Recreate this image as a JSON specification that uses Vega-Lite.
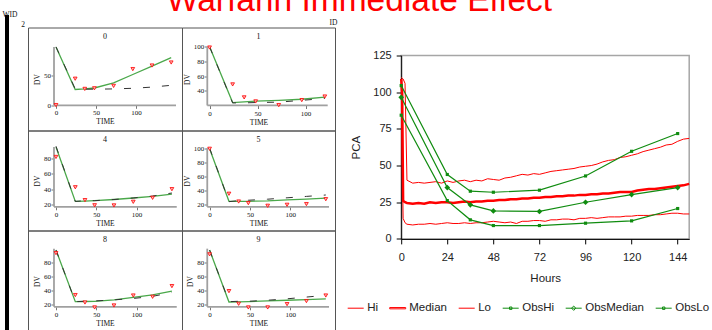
{
"$schema": "https://vega.github.io/schema/vega-lite/v6.json",
"background": "white",
"padding": {"top": -16.5, "left": 0.5, "right": 0, "bottom": 0},
"title": {"text": "Warfarin Immediate Effect", "font": "Liberation Sans", "fontSize": 33.5, "fontWeight": "normal", "color": "#ff0000", "anchor": "middle", "offset": -9.5, "dx": 4},
"config": {
  "view": {"stroke": null},
  "axis": {"grid": false, "domain": false, "tickSize": 3, "tickColor": "#777", "tickWidth": 1, "labelFont": "Liberation Serif", "labelFontSize": 7, "labelColor": "#111", "labelPadding": 0.5, "titleFont": "Liberation Serif", "titleFontSize": 7.5, "titleFontWeight": "normal", "titleColor": "#111", "titlePadding": 2, "labelFlush": false, "labelOverlap": false}
},
"datasets": {
  "panels": [
    {"ID":0,"TIME":0,"PRED":97,"IPRED":97,"OBS":0},
    {"ID":0,"TIME":24,"PRED":27,"IPRED":26,"OBS":44},
    {"ID":0,"TIME":36,"PRED":26.5,"IPRED":27,"OBS":27},
    {"ID":0,"TIME":48,"PRED":26.5,"IPRED":28.5,"OBS":28},
    {"ID":0,"TIME":72,"PRED":27,"IPRED":37,"OBS":32},
    {"ID":0,"TIME":96,"PRED":28,"IPRED":51,"OBS":60},
    {"ID":0,"TIME":120,"PRED":30,"IPRED":65,"OBS":66},
    {"ID":0,"TIME":144,"PRED":33,"IPRED":79,"OBS":71},
    {"ID":1,"TIME":0,"PRED":100,"IPRED":100,"OBS":99},
    {"ID":1,"TIME":24,"PRED":23.5,"IPRED":24,"OBS":48.7},
    {"ID":1,"TIME":36,"PRED":23.5,"IPRED":25,"OBS":31},
    {"ID":1,"TIME":48,"PRED":24,"IPRED":26,"OBS":25.5},
    {"ID":1,"TIME":72,"PRED":24.5,"IPRED":27,"OBS":20.5},
    {"ID":1,"TIME":96,"PRED":27,"IPRED":28.5,"OBS":27.3},
    {"ID":1,"TIME":120,"PRED":29.5,"IPRED":31.5,"OBS":32.2},
    {"ID":4,"TIME":0,"PRED":96,"IPRED":95,"OBS":82},
    {"ID":4,"TIME":24,"PRED":24,"IPRED":24,"OBS":42.5},
    {"ID":4,"TIME":36,"PRED":25,"IPRED":24.5,"OBS":25.7},
    {"ID":4,"TIME":48,"PRED":25,"IPRED":25,"OBS":19},
    {"ID":4,"TIME":72,"PRED":26.5,"IPRED":26.5,"OBS":18.8},
    {"ID":4,"TIME":96,"PRED":28.5,"IPRED":28.5,"OBS":23.5},
    {"ID":4,"TIME":120,"PRED":31,"IPRED":30.5,"OBS":28.7},
    {"ID":4,"TIME":144,"PRED":35,"IPRED":33.5,"OBS":40},
    {"ID":5,"TIME":0,"PRED":100,"IPRED":99,"OBS":99},
    {"ID":5,"TIME":24,"PRED":23.5,"IPRED":24,"OBS":34.8},
    {"ID":5,"TIME":36,"PRED":25,"IPRED":24,"OBS":23.7},
    {"ID":5,"TIME":48,"PRED":25.5,"IPRED":24,"OBS":21.4},
    {"ID":5,"TIME":72,"PRED":27,"IPRED":24.5,"OBS":17.6},
    {"ID":5,"TIME":96,"PRED":29,"IPRED":26,"OBS":19},
    {"ID":5,"TIME":120,"PRED":31,"IPRED":27,"OBS":20},
    {"ID":5,"TIME":144,"PRED":33,"IPRED":28.5,"OBS":27},
    {"ID":8,"TIME":0,"PRED":97,"IPRED":97,"OBS":92.7},
    {"ID":8,"TIME":24,"PRED":24,"IPRED":24,"OBS":33.3},
    {"ID":8,"TIME":36,"PRED":24.5,"IPRED":24.2,"OBS":22.8},
    {"ID":8,"TIME":48,"PRED":25,"IPRED":24.5,"OBS":15.8},
    {"ID":8,"TIME":72,"PRED":26.5,"IPRED":26.5,"OBS":18.6},
    {"ID":8,"TIME":96,"PRED":28.5,"IPRED":30,"OBS":32.7},
    {"ID":8,"TIME":120,"PRED":31.5,"IPRED":33.5,"OBS":30.9},
    {"ID":8,"TIME":144,"PRED":37,"IPRED":39,"OBS":46},
    {"ID":9,"TIME":0,"PRED":97,"IPRED":97,"OBS":91},
    {"ID":9,"TIME":24,"PRED":24,"IPRED":23.5,"OBS":38.9},
    {"ID":9,"TIME":36,"PRED":24.5,"IPRED":23.8,"OBS":21},
    {"ID":9,"TIME":48,"PRED":24.5,"IPRED":24,"OBS":15.8},
    {"ID":9,"TIME":72,"PRED":26,"IPRED":25,"OBS":15.8},
    {"ID":9,"TIME":96,"PRED":28,"IPRED":26,"OBS":20.5},
    {"ID":9,"TIME":120,"PRED":30.5,"IPRED":27,"OBS":24.8},
    {"ID":9,"TIME":144,"PRED":33,"IPRED":28,"OBS":32.7}
  ],
  "frames": [
    {"ID":0,"TIME":-2.5,"TIME2":-2.5,"DV":-0.3,"DV2":97},
    {"ID":0,"TIME":-2.5,"TIME2":150,"DV":-0.3,"DV2":-0.3},
    {"ID":1,"TIME":-2.4,"TIME2":-2.4,"DV":20,"DV2":100},
    {"ID":1,"TIME":-2.4,"TIME2":123,"DV":20,"DV2":20},
    {"ID":4,"TIME":-2.5,"TIME2":-2.5,"DV":17,"DV2":95},
    {"ID":4,"TIME":-2.5,"TIME2":150,"DV":17,"DV2":17},
    {"ID":5,"TIME":-2.9,"TIME2":-2.9,"DV":16,"DV2":100},
    {"ID":5,"TIME":-2.9,"TIME2":148,"DV":16,"DV2":16},
    {"ID":8,"TIME":-2.5,"TIME2":-2.5,"DV":16.7,"DV2":99},
    {"ID":8,"TIME":-2.5,"TIME2":150,"DV":16.7,"DV2":16.7},
    {"ID":9,"TIME":-2.9,"TIME2":-2.9,"DV":16.7,"DV2":99},
    {"ID":9,"TIME":-2.9,"TIME2":148,"DV":16.7,"DV2":16.7}
  ],
  "sim": [
    {"h":0,"Hi":110,"Median":109,"Lo":106},
    {"h":0.5,"Hi":109.5,"Median":100,"Lo":60},
    {"h":1,"Hi":109,"Median":26,"Lo":14},
    {"h":2,"Hi":106,"Median":25,"Lo":11},
    {"h":3,"Hi":40,"Median":24.5,"Lo":10},
    {"h":6,"Hi":38,"Median":24,"Lo":9.5},
    {"h":9,"Hi":38.5,"Median":24.5,"Lo":10},
    {"h":12,"Hi":38,"Median":24,"Lo":10},
    {"h":15,"Hi":38.5,"Median":25,"Lo":10.5},
    {"h":18,"Hi":39,"Median":24.5,"Lo":10},
    {"h":21,"Hi":38,"Median":25,"Lo":10.5},
    {"h":24,"Hi":39.5,"Median":25,"Lo":11},
    {"h":27,"Hi":38.5,"Median":24.5,"Lo":10.5},
    {"h":30,"Hi":39.5,"Median":25,"Lo":10.5},
    {"h":33,"Hi":40,"Median":25.5,"Lo":11},
    {"h":36,"Hi":39,"Median":25,"Lo":10.5},
    {"h":39,"Hi":40,"Median":25.5,"Lo":11},
    {"h":42,"Hi":39.5,"Median":25.5,"Lo":11},
    {"h":45,"Hi":41,"Median":26,"Lo":11.5},
    {"h":48,"Hi":40.5,"Median":26,"Lo":12},
    {"h":51,"Hi":40,"Median":26.5,"Lo":11.5},
    {"h":54,"Hi":41.5,"Median":26.5,"Lo":11},
    {"h":57,"Hi":42,"Median":27,"Lo":11.5},
    {"h":60,"Hi":43,"Median":27,"Lo":10.5},
    {"h":63,"Hi":44,"Median":27.5,"Lo":12},
    {"h":66,"Hi":43.5,"Median":27.5,"Lo":12},
    {"h":69,"Hi":44.5,"Median":28,"Lo":12.5},
    {"h":72,"Hi":44,"Median":28,"Lo":12.5},
    {"h":75,"Hi":45,"Median":28.5,"Lo":12},
    {"h":78,"Hi":46,"Median":28.5,"Lo":13},
    {"h":81,"Hi":46.5,"Median":29,"Lo":13},
    {"h":84,"Hi":47,"Median":29,"Lo":13.5},
    {"h":87,"Hi":47.5,"Median":29.5,"Lo":13.5},
    {"h":90,"Hi":48,"Median":29.5,"Lo":13},
    {"h":93,"Hi":49,"Median":30,"Lo":14},
    {"h":96,"Hi":49.5,"Median":30,"Lo":14},
    {"h":99,"Hi":50,"Median":30.5,"Lo":14.5},
    {"h":102,"Hi":51,"Median":30.5,"Lo":14},
    {"h":105,"Hi":52.5,"Median":31,"Lo":14.5},
    {"h":108,"Hi":53.5,"Median":31,"Lo":15},
    {"h":111,"Hi":54,"Median":31.5,"Lo":15},
    {"h":114,"Hi":55.5,"Median":32,"Lo":15},
    {"h":117,"Hi":56,"Median":32,"Lo":15.5},
    {"h":120,"Hi":57,"Median":32,"Lo":15.5},
    {"h":123,"Hi":58,"Median":33,"Lo":16},
    {"h":126,"Hi":59.5,"Median":33.5,"Lo":16},
    {"h":129,"Hi":60.5,"Median":34,"Lo":16},
    {"h":132,"Hi":61.5,"Median":34,"Lo":16.5},
    {"h":135,"Hi":62.5,"Median":34.5,"Lo":16.5},
    {"h":138,"Hi":64,"Median":35,"Lo":17},
    {"h":141,"Hi":64.5,"Median":35.5,"Lo":17.5},
    {"h":144,"Hi":66.5,"Median":36,"Lo":17.5},
    {"h":147,"Hi":68,"Median":36.5,"Lo":17},
    {"h":150,"Hi":68.5,"Median":37.5,"Lo":17}
  ],
  "obs": [
    {"h":0,"ObsHi":104.5,"ObsMedian":96.5,"ObsLo":84.3},
    {"h":24,"ObsHi":43.9,"ObsMedian":35,"ObsLo":26.1},
    {"h":36,"ObsHi":32.5,"ObsMedian":23.2,"ObsLo":13},
    {"h":48,"ObsHi":31.8,"ObsMedian":19.1,"ObsLo":9.1},
    {"h":72,"ObsHi":33.2,"ObsMedian":18.7,"ObsLo":9.1},
    {"h":96,"ObsHi":42.9,"ObsMedian":25,"ObsLo":10.7},
    {"h":120,"ObsHi":59.7,"ObsMedian":30.2,"ObsLo":12.3},
    {"h":144,"ObsHi":71.8,"ObsMedian":35,"ObsLo":20.7}
  ]
},
"spacing": 8.7,
"bounds": "full",
"resolve": {"scale": {"color": "independent", "shape": "independent"}, "legend": {"color": "independent", "shape": "independent"}},
"hconcat": [
  {
    "spacing": 0.5,
    "bounds": "full",
    "hconcat": [
      {
        "width": 1, "height": 320,
        "view": {"stroke": "#000", "strokeWidth": 3},
        "title": {"text": "WID", "anchor": "start", "font": "Liberation Serif", "fontSize": 7.5, "fontWeight": "normal", "color": "#111", "offset": -1.5, "dx": -4},
        "data": {"values": [{"t": "2"}]},
        "mark": {"type": "text", "font": "Liberation Serif", "fontSize": 7.5, "align": "right", "baseline": "alphabetic", "dx": 17.5, "dy": 10, "color": "#111"},
        "encoding": {"text": {"field": "t"}, "x": {"value": "width"}, "y": {"value": 0}}
      },
      {
        "spacing": 0,
        "bounds": "full",
        "vconcat": [
          {
            "width": 307, "height": 9.2,
            "data": {"values": [{"t": "ID"}]},
            "mark": {"type": "text", "font": "Liberation Serif", "fontSize": 7.5, "align": "right", "baseline": "alphabetic", "dx": 2.3, "dy": -1, "color": "#111"},
            "encoding": {"text": {"field": "t"}, "x": {"value": "width"}, "y": {"value": "height"}}
          },
          {
            "columns": 2,
            "spacing": 0,
            "bounds": "flush",
            "concat": [
              {
                "width": 154, "height": 103,
                "view": {"stroke": "#555", "strokeWidth": 1},
                "title": {"text": "0", "offset": -13.5, "font": "Liberation Serif", "fontSize": 8, "fontWeight": "normal", "color": "#111"},
                "encoding": {
                  "x": {"field": "TIME", "type": "quantitative", "scale": {"domain": [-35, 157.5], "nice": false, "zero": false}, "axis": {"values": [0, 50, 100], "title": "TIME", "offset": -25.2}},
                  "y": {"field": "DV", "type": "quantitative", "scale": {"domain": [-42.33, 129.33], "nice": false, "zero": false}, "axis": {"values": [0, 50], "title": "DV", "offset": -26}}
                },
                "layer": [
                  {"data": {"name": "frames"}, "transform": [{"filter": "datum.ID == 0"}], "mark": {"type": "rule", "color": "#a0a0a0", "strokeWidth": 1.8}, "encoding": {"x2": {"field": "TIME2"}, "y2": {"field": "DV2"}}},
                  {"data": {"name": "panels"}, "transform": [{"filter": "datum.ID == 0"}, {"fold": ["IPRED"], "as": ["k", "DV"]}], "mark": {"type": "line", "color": "#4aa84a", "strokeWidth": 1.3}},
                  {"data": {"name": "panels"}, "transform": [{"filter": "datum.ID == 0"}, {"fold": ["PRED"], "as": ["k", "DV"]}], "mark": {"type": "line", "color": "#333", "strokeWidth": 1, "strokeDash": [7, 12]}},
                  {"data": {"name": "panels"}, "transform": [{"filter": "datum.ID == 0"}, {"fold": ["OBS"], "as": ["k", "DV"]}], "mark": {"type": "point", "shape": "triangle-down", "filled": true, "fill": "#ffb8b8", "stroke": "#ff0000", "strokeWidth": 0.8, "size": 14, "opacity": 1}}
                ]
              },
              {
                "width": 153, "height": 103,
                "view": {"stroke": "#555", "strokeWidth": 1},
                "title": {"text": "1", "offset": -13.5, "font": "Liberation Serif", "fontSize": 8, "fontWeight": "normal", "color": "#111"},
                "encoding": {
                  "x": {"field": "TIME", "type": "quantitative", "scale": {"domain": [-28.75, 130.6], "nice": false, "zero": false}, "axis": {"values": [0, 50, 100], "title": "TIME", "offset": -25}},
                  "y": {"field": "DV", "type": "quantitative", "scale": {"domain": [-14.14, 126.3], "nice": false, "zero": false}, "axis": {"values": [40, 60, 80, 100], "title": "DV", "offset": -25.3}}
                },
                "layer": [
                  {"data": {"name": "frames"}, "transform": [{"filter": "datum.ID == 1"}], "mark": {"type": "rule", "color": "#a0a0a0", "strokeWidth": 1.8}, "encoding": {"x2": {"field": "TIME2"}, "y2": {"field": "DV2"}}},
                  {"data": {"name": "panels"}, "transform": [{"filter": "datum.ID == 1"}, {"fold": ["IPRED"], "as": ["k", "DV"]}], "mark": {"type": "line", "color": "#4aa84a", "strokeWidth": 1.3}},
                  {"data": {"name": "panels"}, "transform": [{"filter": "datum.ID == 1"}, {"fold": ["PRED"], "as": ["k", "DV"]}], "mark": {"type": "line", "color": "#333", "strokeWidth": 1, "strokeDash": [7, 12]}},
                  {"data": {"name": "panels"}, "transform": [{"filter": "datum.ID == 1"}, {"fold": ["OBS"], "as": ["k", "DV"]}], "mark": {"type": "point", "shape": "triangle-down", "filled": true, "fill": "#ffb8b8", "stroke": "#ff0000", "strokeWidth": 0.8, "size": 14, "opacity": 1}}
                ]
              },
              {
                "width": 154, "height": 100,
                "view": {"stroke": "#555", "strokeWidth": 1},
                "title": {"text": "4", "offset": -13.5, "font": "Liberation Serif", "fontSize": 8, "fontWeight": "normal", "color": "#111"},
                "encoding": {
                  "x": {"field": "TIME", "type": "quantitative", "scale": {"domain": [-34.78, 156.52], "nice": false, "zero": false}, "axis": {"values": [0, 50, 100], "title": "TIME", "offset": -23.7}},
                  "y": {"field": "DV", "type": "quantitative", "scale": {"domain": [-13.9, 116.5], "nice": false, "zero": false}, "axis": {"values": [20, 40, 60, 80], "title": "DV", "offset": -26}}
                },
                "layer": [
                  {"data": {"name": "frames"}, "transform": [{"filter": "datum.ID == 4"}], "mark": {"type": "rule", "color": "#a0a0a0", "strokeWidth": 1.8}, "encoding": {"x2": {"field": "TIME2"}, "y2": {"field": "DV2"}}},
                  {"data": {"name": "panels"}, "transform": [{"filter": "datum.ID == 4"}, {"fold": ["IPRED"], "as": ["k", "DV"]}], "mark": {"type": "line", "color": "#4aa84a", "strokeWidth": 1.3}},
                  {"data": {"name": "panels"}, "transform": [{"filter": "datum.ID == 4"}, {"fold": ["PRED"], "as": ["k", "DV"]}], "mark": {"type": "line", "color": "#333", "strokeWidth": 1, "strokeDash": [7, 12]}},
                  {"data": {"name": "panels"}, "transform": [{"filter": "datum.ID == 4"}, {"fold": ["OBS"], "as": ["k", "DV"]}], "mark": {"type": "point", "shape": "triangle-down", "filled": true, "fill": "#ffb8b8", "stroke": "#ff0000", "strokeWidth": 0.8, "size": 14, "opacity": 1}}
                ]
              },
              {
                "width": 153, "height": 100,
                "view": {"stroke": "#555", "strokeWidth": 1},
                "title": {"text": "5", "offset": -13.5, "font": "Liberation Serif", "fontSize": 8, "fontWeight": "normal", "color": "#111"},
                "encoding": {
                  "x": {"field": "TIME", "type": "quantitative", "scale": {"domain": [-34.2, 155.4], "nice": false, "zero": false}, "axis": {"values": [0, 50, 100], "title": "TIME", "offset": -23.6}},
                  "y": {"field": "DV", "type": "quantitative", "scale": {"domain": [-17.7, 125.1], "nice": false, "zero": false}, "axis": {"values": [20, 40, 60, 80, 100], "title": "DV", "offset": -25.3}}
                },
                "layer": [
                  {"data": {"name": "frames"}, "transform": [{"filter": "datum.ID == 5"}], "mark": {"type": "rule", "color": "#a0a0a0", "strokeWidth": 1.8}, "encoding": {"x2": {"field": "TIME2"}, "y2": {"field": "DV2"}}},
                  {"data": {"name": "panels"}, "transform": [{"filter": "datum.ID == 5"}, {"fold": ["IPRED"], "as": ["k", "DV"]}], "mark": {"type": "line", "color": "#4aa84a", "strokeWidth": 1.3}},
                  {"data": {"name": "panels"}, "transform": [{"filter": "datum.ID == 5"}, {"fold": ["PRED"], "as": ["k", "DV"]}], "mark": {"type": "line", "color": "#333", "strokeWidth": 1, "strokeDash": [7, 12]}},
                  {"data": {"name": "panels"}, "transform": [{"filter": "datum.ID == 5"}, {"fold": ["OBS"], "as": ["k", "DV"]}], "mark": {"type": "point", "shape": "triangle-down", "filled": true, "fill": "#ffb8b8", "stroke": "#ff0000", "strokeWidth": 0.8, "size": 14, "opacity": 1}}
                ]
              },
              {
                "width": 154, "height": 101,
                "view": {"stroke": "#555", "strokeWidth": 1},
                "title": {"text": "8", "offset": -13.5, "font": "Liberation Serif", "fontSize": 8, "fontWeight": "normal", "color": "#111"},
                "encoding": {
                  "x": {"field": "TIME", "type": "quantitative", "scale": {"domain": [-34.78, 156.52], "nice": false, "zero": false}, "axis": {"values": [0, 50, 100], "title": "TIME", "offset": -24.7}},
                  "y": {"field": "DV", "type": "quantitative", "scale": {"domain": [-18.25, 124.7], "nice": false, "zero": false}, "axis": {"values": [20, 40, 60, 80], "title": "DV", "offset": -26}}
                },
                "layer": [
                  {"data": {"name": "frames"}, "transform": [{"filter": "datum.ID == 8"}], "mark": {"type": "rule", "color": "#a0a0a0", "strokeWidth": 1.8}, "encoding": {"x2": {"field": "TIME2"}, "y2": {"field": "DV2"}}},
                  {"data": {"name": "panels"}, "transform": [{"filter": "datum.ID == 8"}, {"fold": ["IPRED"], "as": ["k", "DV"]}], "mark": {"type": "line", "color": "#4aa84a", "strokeWidth": 1.3}},
                  {"data": {"name": "panels"}, "transform": [{"filter": "datum.ID == 8"}, {"fold": ["PRED"], "as": ["k", "DV"]}], "mark": {"type": "line", "color": "#333", "strokeWidth": 1, "strokeDash": [7, 12]}},
                  {"data": {"name": "panels"}, "transform": [{"filter": "datum.ID == 8"}, {"fold": ["OBS"], "as": ["k", "DV"]}], "mark": {"type": "point", "shape": "triangle-down", "filled": true, "fill": "#ffb8b8", "stroke": "#ff0000", "strokeWidth": 0.8, "size": 14, "opacity": 1}}
                ]
              },
              {
                "width": 153, "height": 101,
                "view": {"stroke": "#555", "strokeWidth": 1},
                "title": {"text": "9", "offset": -13.5, "font": "Liberation Serif", "fontSize": 8, "fontWeight": "normal", "color": "#111"},
                "encoding": {
                  "x": {"field": "TIME", "type": "quantitative", "scale": {"domain": [-34.2, 155.4], "nice": false, "zero": false}, "axis": {"values": [0, 50, 100], "title": "TIME", "offset": -24.7}},
                  "y": {"field": "DV", "type": "quantitative", "scale": {"domain": [-18.25, 124.7], "nice": false, "zero": false}, "axis": {"values": [20, 40, 60, 80], "title": "DV", "offset": -25.3}}
                },
                "layer": [
                  {"data": {"name": "frames"}, "transform": [{"filter": "datum.ID == 9"}], "mark": {"type": "rule", "color": "#a0a0a0", "strokeWidth": 1.8}, "encoding": {"x2": {"field": "TIME2"}, "y2": {"field": "DV2"}}},
                  {"data": {"name": "panels"}, "transform": [{"filter": "datum.ID == 9"}, {"fold": ["IPRED"], "as": ["k", "DV"]}], "mark": {"type": "line", "color": "#4aa84a", "strokeWidth": 1.3}},
                  {"data": {"name": "panels"}, "transform": [{"filter": "datum.ID == 9"}, {"fold": ["PRED"], "as": ["k", "DV"]}], "mark": {"type": "line", "color": "#333", "strokeWidth": 1, "strokeDash": [7, 12]}},
                  {"data": {"name": "panels"}, "transform": [{"filter": "datum.ID == 9"}, {"fold": ["OBS"], "as": ["k", "DV"]}], "mark": {"type": "point", "shape": "triangle-down", "filled": true, "fill": "#ffb8b8", "stroke": "#ff0000", "strokeWidth": 0.8, "size": 14, "opacity": 1}}
                ]
              }
            ]
          }
        ]
      }
    ]
  },
  {
    "spacing": 0,
    "bounds": "full",
    "resolve": {"scale": {"color": "independent", "shape": "independent"}, "legend": {"color": "independent", "shape": "independent"}},
    "vconcat": [
      {"width": 1, "height": 31.3, "data": {"values": []}, "mark": "point"},
      {
        "width": 288, "height": 183.4,
        "view": {"stroke": "#a6a6a6", "strokeWidth": 1.5},
        "encoding": {
          "x": {"field": "h", "type": "quantitative", "scale": {"domain": [0, 150], "nice": false, "zero": false},
                "axis": {"values": [0, 24, 48, 72, 96, 120, 144], "title": "Hours", "domain": true, "domainColor": "#000", "domainWidth": 1, "tickColor": "#000", "tickSize": 5, "labelFont": "Liberation Sans", "labelFontSize": 11, "labelColor": "#222", "labelPadding": 7.5, "titleFont": "Liberation Sans", "titleFontSize": 11.5, "titleFontWeight": "normal", "titleColor": "#222", "titlePadding": 10.5}},
          "y": {"field": "v", "type": "quantitative", "scale": {"domain": [0, 125], "nice": false, "zero": false},
                "axis": {"values": [0, 25, 50, 75, 100, 125], "title": "PCA", "domain": true, "domainColor": "#000", "domainWidth": 1, "tickColor": "#000", "tickSize": 5, "labelFont": "Liberation Sans", "labelFontSize": 11, "labelColor": "#222", "labelPadding": 5, "titleFont": "Liberation Sans", "titleFontSize": 11.5, "titleFontWeight": "normal", "titleColor": "#222", "titlePadding": 11}}
        },
        "layer": [
          {"data": {"name": "sim"}, "transform": [{"fold": ["Hi", "Lo"], "as": ["s", "v"]}], "mark": {"type": "line", "color": "#ff0000", "strokeWidth": 1}, "encoding": {"detail": {"field": "s"}}},
          {"data": {"name": "sim"}, "transform": [{"fold": ["Median"], "as": ["s", "v"]}], "mark": {"type": "line", "color": "#ff0000", "strokeWidth": 2.5}},
          {"data": {"name": "obs"}, "transform": [{"fold": ["ObsHi", "ObsMedian", "ObsLo"], "as": ["s", "v"]}], "mark": {"type": "line", "color": "#108c10", "strokeWidth": 1.2}, "encoding": {"detail": {"field": "s"}}},
          {"data": {"name": "obs"}, "transform": [{"fold": ["ObsHi", "ObsLo"], "as": ["s", "v"]}], "mark": {"type": "point", "shape": "square", "filled": true, "color": "#108c10", "size": 10, "opacity": 1}},
          {"data": {"name": "obs"}, "transform": [{"fold": ["ObsMedian"], "as": ["s", "v"]}], "mark": {"type": "point", "shape": "diamond", "filled": true, "color": "#108c10", "size": 32, "opacity": 1}},
          {
            "data": {"values": []},
            "mark": {"type": "point", "filled": false, "opacity": 1},
            "encoding": {
              "x": null, "y": null,
              "color": {"field": "s", "type": "nominal",
                "scale": {"domain": ["Hi", "Median", "Lo", "ObsHi", "ObsMedian", "ObsLo"], "range": ["#ff0000", "#ff0000", "#ff0000", "#108c10", "#108c10", "#108c10"]},
                "legend": {"title": null, "orient": "none", "legendX": -54, "legendY": 244.2, "direction": "horizontal", "columns": 6, "symbolSize": 256, "symbolStrokeWidth": 1, "labelFont": "Liberation Sans", "labelFontSize": 11.5, "labelColor": "#222", "labelOffset": 3, "columnPadding": 9, "padding": 0}},
              "shape": {"field": "s", "type": "nominal",
                "scale": {"domain": ["Hi", "Median", "Lo", "ObsHi", "ObsMedian", "ObsLo"], "range": ["M-1,0H1", "M-1,-0.08H1V0.08H-1Z", "M-1,0H1", "M-1,0H1M-0.15,-0.15H0.15V0.15H-0.15Z", "M-1,0H1M0,-0.27L0.27,0L0,0.27L-0.27,0Z", "M-1,0H1M-0.15,-0.15H0.15V0.15H-0.15Z"]},
                "legend": {"title": null, "orient": "none", "legendX": -54, "legendY": 244.2, "direction": "horizontal", "columns": 6, "symbolSize": 256, "symbolStrokeWidth": 1, "labelFont": "Liberation Sans", "labelFontSize": 11.5, "labelColor": "#222", "labelOffset": 3, "columnPadding": 9, "padding": 0}}
            }
          }
        ]
      }
    ]
  }
]
}
